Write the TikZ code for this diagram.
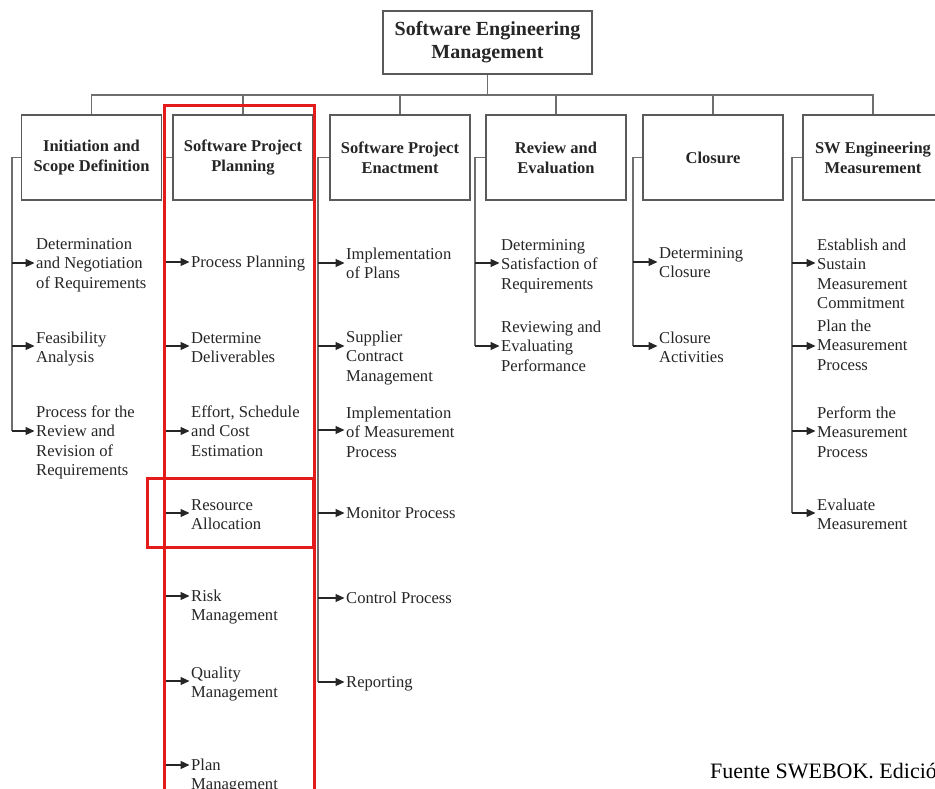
\documentclass[tikz,border=0pt]{standalone}
\usepackage{fontspec}
\setmainfont{Liberation Serif}
\usetikzlibrary{arrows.meta}
\definecolor{linegray}{HTML}{6E6E6E}
\definecolor{boxgray}{HTML}{5A5A5A}
\definecolor{txt}{HTML}{262626}
\definecolor{hlred}{HTML}{E41B1B}

\begin{document}
\begin{tikzpicture}[x=1pt,y=-1pt,
  hdr/.style={draw=boxgray, line width=1.3pt, minimum width=140pt, minimum height=85pt,
    align=center, inner sep=0pt, text=txt, font=\fontsize{16.5}{20}\selectfont\bfseries},
  topbox/.style={draw=boxgray, line width=1.3pt, minimum width=209pt, minimum height=63pt,
    align=center, inner sep=0pt, text=txt, font=\fontsize{20}{23}\selectfont\bfseries},
  % #1 = number of lines; the node is placed by the baseline of its first line
  item/.style={anchor=base west, align=left, inner sep=0pt, text=txt,
    font=\fontsize{16.6}{19.5}\selectfont, yshift=-(#1-1)*19.5pt},
  item/.default=1,
  trunk/.style={draw=linegray, line width=1.2pt},
  arr/.style={draw=black!85, line width=1.1pt, shorten >=1.5pt,
    -{Triangle[length=9pt,width=8pt]}},
  hl/.style={draw=hlred, line width=3pt}
]
\useasboundingbox (0,0) rectangle (935,789);
\clip (0,0) rectangle (935,789);
\fill[white] (0,0) rectangle (935,789);

% root and the six knowledge areas
\node[topbox] (top) at (487.5,42.5) {Software Engineering\\Management};
\node[hdr] (h1) at (91.5,157.5) {Initiation and\\Scope Definition};
\node[hdr] (h2) at (243,157.5) {Software Project\\Planning};
\node[hdr] (h3) at (400,157.5) {Software Project\\Enactment};
\node[hdr] (h4) at (556,157.5) {Review and\\Evaluation};
\node[hdr] (h5) at (713,157.5) {Closure};
\node[hdr] (h6) at (873,157.5) {SW Engineering\\Measurement};

% bus joining the root to the areas
\coordinate (bus) at (487.5,95);
\draw[trunk] (top.south) -- (bus);
\draw[trunk] (h1.north) |- (bus -| h6.north) -- (h6.north);
\foreach \k in {2,3,4,5} \draw[trunk] (h\k.north) -- (h\k.north |- bus);

% topics
\node[item=3] (i11) at (36,249) {Determination\\and Negotiation\\of Requirements};
\node[item=2] (i12) at (36,343) {Feasibility\\Analysis};
\node[item=4] (i13) at (36,417) {Process for the\\Review and\\Revision of\\Requirements};

\node[item]   (i21) at (191,267) {Process Planning};
\node[item=2] (i22) at (191,343) {Determine\\Deliverables};
\node[item=3] (i23) at (191,417) {Effort, Schedule\\and Cost\\Estimation};
\node[item=2] (i24) at (191,510) {Resource\\Allocation};
\node[item=2] (i25) at (191,601) {Risk\\Management};
\node[item=2] (i26) at (191,678) {Quality\\Management};
\node[item=2] (i27) at (191,770) {Plan\\Management};

\node[item=2] (i31) at (346,259) {Implementation\\of Plans};
\node[item=3] (i32) at (346,342) {Supplier\\Contract\\Management};
\node[item=3] (i33) at (346,418) {Implementation\\of Measurement\\Process};
\node[item]   (i34) at (346,518) {Monitor Process};
\node[item]   (i35) at (346,603) {Control Process};
\node[item]   (i36) at (346,687) {Reporting};

\node[item=3] (i41) at (501,250) {Determining\\Satisfaction of\\Requirements};
\node[item=3] (i42) at (501,332) {Reviewing and\\Evaluating\\Performance};

\node[item=2] (i51) at (659,258) {Determining\\Closure};
\node[item=2] (i52) at (659,343) {Closure\\Activities};

\node[item=4] (i61) at (817,250) {Establish and\\Sustain\\Measurement\\Commitment};
\node[item=3] (i62) at (817,331) {Plan the\\Measurement\\Process};
\node[item=3] (i63) at (817,418) {Perform the\\Measurement\\Process};
\node[item=2] (i64) at (817,510) {Evaluate\\Measurement};

% branch points on each trunk
\coordinate (s11) at (12,263);  \coordinate (s12) at (12,346);  \coordinate (s13) at (12,431);
\coordinate (s21) at (165,262); \coordinate (s22) at (165,346); \coordinate (s23) at (165,431);
\coordinate (s24) at (165,513); \coordinate (s25) at (165,596); \coordinate (s26) at (165,681);
\coordinate (s27) at (165,765);
\coordinate (s31) at (318,263); \coordinate (s32) at (318,346); \coordinate (s33) at (318,430);
\coordinate (s34) at (318,513); \coordinate (s35) at (318,598); \coordinate (s36) at (318,682);
\coordinate (s41) at (475,263); \coordinate (s42) at (475,346);
\coordinate (s51) at (633,262); \coordinate (s52) at (633,346);
\coordinate (s61) at (792,263); \coordinate (s62) at (792,346); \coordinate (s63) at (792,431);
\coordinate (s64) at (792,513);

% trunks
\draw[trunk] (h1.west) -| (s13);
\draw[trunk] (h2.west) -| (s27);
\draw[trunk] (h3.west) -| (s36);
\draw[trunk] (h4.west) -| (s42);
\draw[trunk] (h5.west) -| (s52);
\draw[trunk] (h6.west) -| (s64);

% arrows to the topics
\foreach \c/\n in {1/3, 2/7, 3/6, 4/2, 5/2, 6/4}
  \foreach \r in {1,...,\n}
    \draw[arr] (s\c\r) -- (i\c\r.west |- s\c\r);

% highlight frames
\draw[hl] (164,106) rectangle (314,800);
\draw[hl] (147,478) rectangle (313,547);

% source note
\node[anchor=base west, inner sep=0pt, text=black, font=\fontsize{22}{24}\selectfont]
  (src) at (710,778) {Fuente SWEBOK. Edición};
\end{tikzpicture}
\end{document}
